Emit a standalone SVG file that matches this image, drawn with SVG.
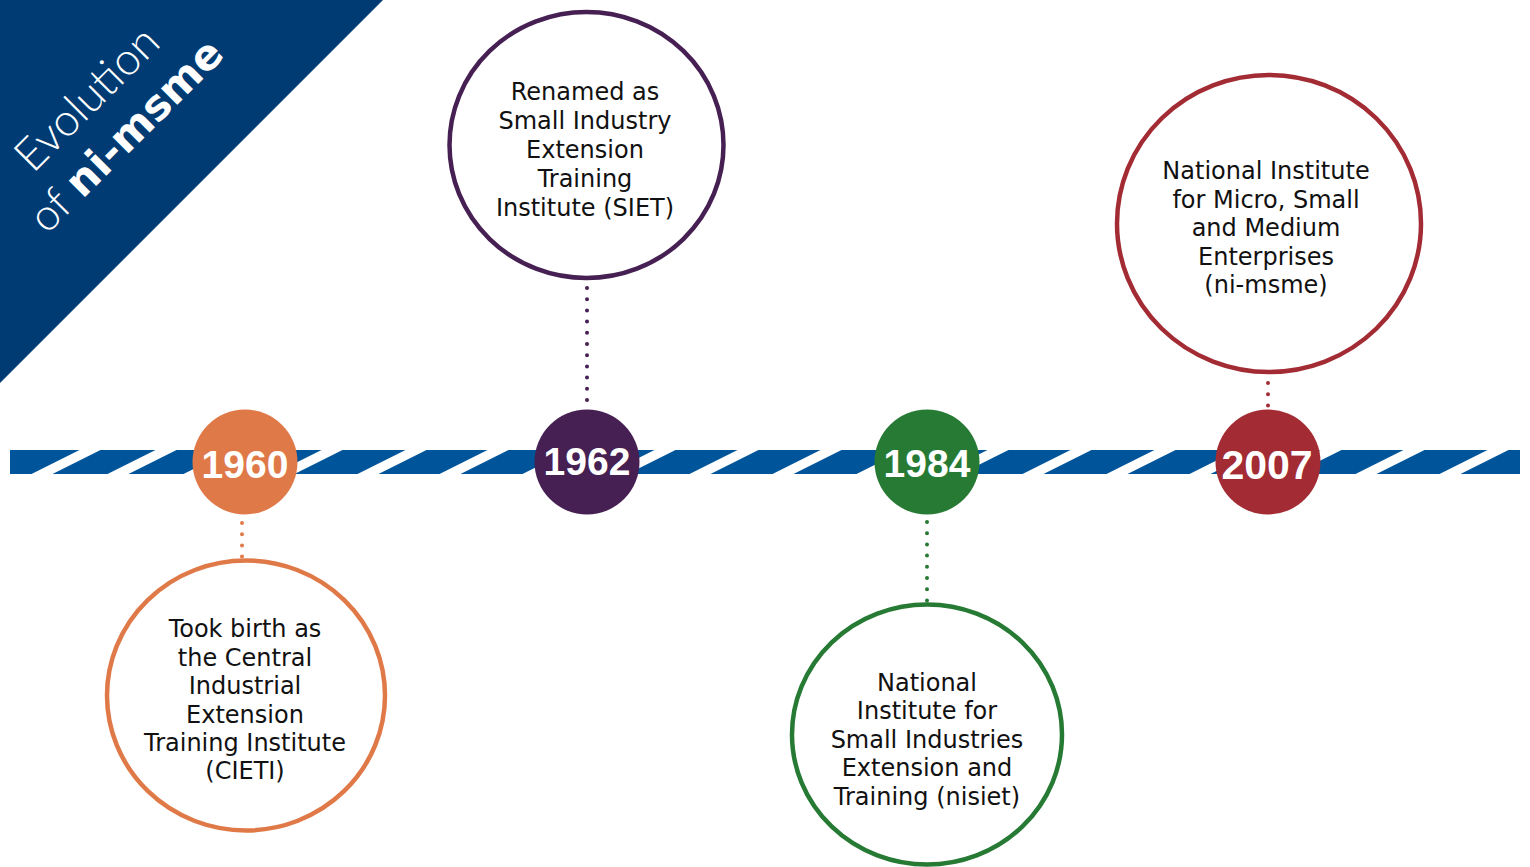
<svg xmlns="http://www.w3.org/2000/svg" xmlns:xlink="http://www.w3.org/1999/xlink" width="1530" height="867" viewBox="0 0 1530 867">
<style>
.desc{font-family:"DejaVu Sans","Liberation Sans",sans-serif;font-size:24px;fill:#111;text-anchor:middle}
.year{font-family:"Liberation Sans",Arial,sans-serif;font-weight:700;font-size:39px;fill:#fff;text-anchor:middle}
.ring{fill:#fff;stroke-width:4.5}
.dot{fill:none;stroke-width:4;stroke-linecap:round;stroke-dasharray:0 11.2}
</style>
<defs>
<polygon id="stripe" points="-34.5,474 -13.5,474 34.5,450 13.5,450" fill="#fff"/>
<clipPath id="barclip"><rect x="10" y="450" width="1510" height="24"/></clipPath>
</defs>
<rect width="1530" height="867" fill="#fff"/>

<g id="title">
<polygon points="0,0 383,0 0,383" fill="#003B73"/>
<text transform="translate(33,174) rotate(-45)" font-family="Lato,'Open Sans',sans-serif" font-weight="300" font-size="45" fill="#fff">Evolution</text>
<text transform="translate(47,235) rotate(-45)" font-size="42" fill="#fff"><tspan font-family="Lato,'Open Sans',sans-serif" font-weight="300" font-size="44">of </tspan><tspan font-family="'DejaVu Sans',sans-serif" font-weight="700">ni-msme</tspan></text>
</g>

<g id="timeline-bar">
<rect x="10" y="450" width="1510" height="24" fill="#00559A"/>
<g clip-path="url(#barclip)">
<use xlink:href="#stripe" x="66"/><use xlink:href="#stripe" x="142"/><use xlink:href="#stripe" x="218"/>
<use xlink:href="#stripe" x="308"/><use xlink:href="#stripe" x="392"/><use xlink:href="#stripe" x="474"/>
<use xlink:href="#stripe" x="557"/><use xlink:href="#stripe" x="641"/><use xlink:href="#stripe" x="724"/>
<use xlink:href="#stripe" x="807"/><use xlink:href="#stripe" x="891"/><use xlink:href="#stripe" x="974"/>
<use xlink:href="#stripe" x="1057"/><use xlink:href="#stripe" x="1141"/><use xlink:href="#stripe" x="1224"/>
<use xlink:href="#stripe" x="1307"/><use xlink:href="#stripe" x="1390"/><use xlink:href="#stripe" x="1474"/>
</g>
</g>

<g id="connectors">
<line class="dot" x1="242" y1="523" x2="242" y2="557" stroke="#E07948"/>
<line class="dot" x1="587" y1="288" x2="587" y2="408" stroke="#462053"/>
<line class="dot" x1="927" y1="522" x2="927" y2="602" stroke="#267A34"/>
<line class="dot" x1="1268" y1="383" x2="1268" y2="407" stroke="#A32B33"/>
</g>

<g id="y1960">
<circle cx="245" cy="462" r="52.5" fill="#E07948"/>
<text class="year" x="245" y="478">1960</text>
</g>
<g id="e1960">
<ellipse class="ring" cx="246" cy="695.5" rx="139" ry="135" stroke="#E07948"/>
<text class="desc" x="245" y="637">Took birth as</text>
<text class="desc" x="245" y="665.5">the Central</text>
<text class="desc" x="245" y="694">Industrial</text>
<text class="desc" x="245" y="722.5">Extension</text>
<text class="desc" x="245" y="751">Training Institute</text>
<text class="desc" x="245" y="779">(CIETI)</text>
</g>

<g id="y1962">
<circle cx="587" cy="462" r="52.5" fill="#462053"/>
<text class="year" x="587" y="475">1962</text>
</g>
<g id="e1962">
<ellipse class="ring" cx="586.5" cy="145" rx="137" ry="133" stroke="#462053"/>
<text class="desc" x="585" y="100">Renamed as</text>
<text class="desc" x="585" y="129">Small Industry</text>
<text class="desc" x="585" y="158">Extension</text>
<text class="desc" x="585" y="187">Training</text>
<text class="desc" x="585" y="215.5">Institute (SIET)</text>
</g>

<g id="y1984">
<circle cx="927" cy="462" r="52.5" fill="#267A34"/>
<text class="year" x="927" y="477">1984</text>
</g>
<g id="e1984">
<ellipse class="ring" cx="927" cy="734.5" rx="135" ry="130" stroke="#267A34"/>
<text class="desc" x="927" y="690.5">National</text>
<text class="desc" x="927" y="719">Institute for</text>
<text class="desc" x="927" y="747.5">Small Industries</text>
<text class="desc" x="927" y="776">Extension and</text>
<text class="desc" x="927" y="804.5">Training (nisiet)</text>
</g>

<g id="y2007">
<circle cx="1268" cy="462" r="52.5" fill="#A32B33"/>
<text class="year" x="1267" y="479" style="font-size:41px">2007</text>
</g>
<g id="e2007">
<ellipse class="ring" cx="1269" cy="223.5" rx="152" ry="148.5" stroke="#A32B33"/>
<text class="desc" x="1266" y="179">National Institute</text>
<text class="desc" x="1266" y="207.5">for Micro, Small</text>
<text class="desc" x="1266" y="236">and Medium</text>
<text class="desc" x="1266" y="264.5">Enterprises</text>
<text class="desc" x="1266" y="293">(ni-msme)</text>
</g>
</svg>
